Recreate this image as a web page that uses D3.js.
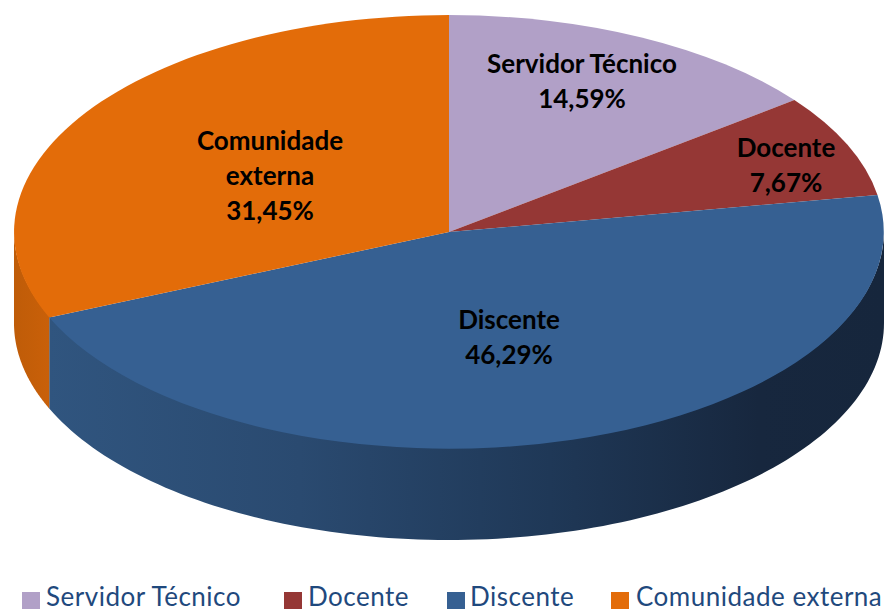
<!DOCTYPE html>
<html><head><meta charset="utf-8">
<script src="https://cdn.jsdelivr.net/npm/d3@7"></script>
<style>html,body{margin:0;padding:0;background:#fff}svg{display:block}text{font-family:Lato,"Open Sans",sans-serif}</style>
</head><body><div id="c"></div>
<script>
const categories = ["Servidor Técnico","Docente","Discente","Comunidade externa"];
const values = [14.59,7.67,46.29,31.45];
const valueLabels = ["14,59%","7,67%","46,29%","31,45%"];
const colors = ["#b1a0c7","#953735","#366092","#e36c09"];
const labelLines = [["Servidor Técnico"],["Docente"],["Discente"],["Comunidade","externa"]];
const labelPos = [[582,73],[786,157],[509,329],[270,150]];
const legendSwatchX = [22,284,447,611];
const legendTextX = [46,308,470,636];
const W=884,H=612,cx=449,cy=232,rx=435,ry=217,depth=91;

const svg=d3.select("#c").append("svg").attr("width",W).attr("height",H);
const defs=svg.append("defs");
const g1=defs.append("linearGradient").attr("id","sideBlue").attr("gradientUnits","userSpaceOnUse")
  .attr("x1",49).attr("x2",884).attr("y1",0).attr("y2",0);
[[0,"#30557f"],[0.3,"#2a4a70"],[0.6,"#1f3857"],[0.85,"#17273e"],[1,"#16263c"]].forEach(s=>g1.append("stop").attr("offset",s[0]).attr("stop-color",s[1]));
const g2=defs.append("linearGradient").attr("id","sideOrange").attr("gradientUnits","userSpaceOnUse")
  .attr("x1",14).attr("x2",49).attr("y1",0).attr("y2",0);
[[0,"#bf5c08"],[1,"#c96009"]].forEach(s=>g2.append("stop").attr("offset",s[0]).attr("stop-color",s[1]));

const pie=d3.pie().sort(null).value(d=>d)(values);
const px=a=>cx+rx*Math.sin(a), py=a=>cy-ry*Math.cos(a);

// side wall: only the front-facing half (pi/2..3pi/2) is visible
const sideFills={2:"url(#sideBlue)",3:"url(#sideOrange)"};
const line=d3.line().x(d=>d[0]).y(d=>d[1]);
[2,3].forEach(i=>{
  const a0=Math.max(pie[i].startAngle,Math.PI/2), a1=Math.min(pie[i].endAngle,3*Math.PI/2);
  const angles=d3.range(0,121).map(k=>a0+(a1-a0)*k/120);
  const top=angles.map(a=>[px(a),py(a)-1.5]);
  const bottom=angles.slice().reverse().map(a=>[px(a),py(a)+depth]);
  svg.append("path").attr("d",line(top.concat(bottom))+"Z").attr("fill",sideFills[i]);
});

// top face
const arc=d3.arc().innerRadius(0).outerRadius(1);
svg.append("g").attr("transform",`translate(${cx},${cy}) scale(${rx},${ry})`)
  .selectAll("path").data(pie).join("path")
  .attr("d",arc).attr("fill",(d,i)=>colors[i]);

// data labels
const lab=svg.append("g").attr("text-anchor","middle").attr("font-weight",700).attr("font-size",26).attr("fill","#000");
labelLines.forEach((lines,i)=>{
  const all=lines.concat([valueLabels[i]]);
  all.forEach((t,j)=>lab.append("text").attr("x",labelPos[i][0]).attr("y",labelPos[i][1]+j*35).text(t));
});

// legend
const leg=svg.append("g");
categories.forEach((c,i)=>{
  leg.append("rect").attr("x",legendSwatchX[i]).attr("y",592).attr("width",18).attr("height",17).attr("fill",colors[i]);
  leg.append("text").attr("x",legendTextX[i]).attr("y",606).attr("font-size",26).attr("letter-spacing",0.5).attr("fill","#1f497d").text(c);
});
</script></body></html>
